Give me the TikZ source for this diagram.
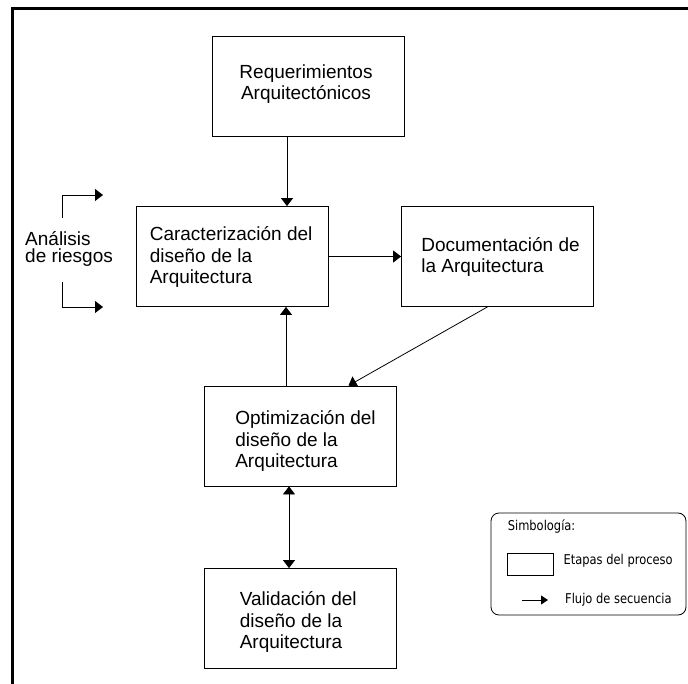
\documentclass[tikz,border=0pt]{standalone}
\usepackage{fontspec}
\setmainfont{Liberation Sans}
\newfontfamily\keyfont[FakeStretch=0.85]{DejaVu Sans}
\usetikzlibrary{arrows.meta,calc}
\begin{document}
\begin{tikzpicture}[x=1pt,y=-1pt,
  stage/.style={draw, line width=0.8pt, minimum width=192pt, minimum height=100pt, inner sep=0pt},
  lbl/.style={font=\fontsize{19}{21.5}\selectfont, align=left, inner sep=0pt, anchor=west},
  flow/.style={line width=0.8pt, -{Triangle[width=12pt,length=8pt]}},
  bothflow/.style={line width=0.8pt, {Triangle[width=12pt,length=8pt]}-{Triangle[width=12pt,length=8pt]}},
  keytxt/.style={font=\keyfont\fontsize{13.5}{15}\selectfont, inner sep=0pt, anchor=west}]
\useasboundingbox (0,0) rectangle (688,684);

% outer frame (top and left edges)
\draw[line width=3pt] (688,9) -- (12,9) -- (12,684);

% process stages
\node[stage] (req) at (308,86) {};
\node[stage] (car) at (232,256.5) {};
\node[stage] (doc) at (497.5,256.5) {};
\node[stage] (opt) at (300.5,436) {};
\node[stage] (val) at (300,618.5) {};

\node[lbl, anchor=center, align=center] (reqt) at ($(req.center)+(-2,-2)$) {Requerimientos\\Arquitectónicos};
\node[lbl] (cart) at ($(car.west)+(14,0.5)$) {Caracterización del\\diseño de la\\Arquitectura};
\node[lbl] (doct) at ($(doc.west)+(20,0.5)$) {Documentación de\\la Arquitectura};
\node[lbl] (optt) at ($(opt.west)+(31,5)$) {Optimización del\\diseño de la\\Arquitectura};
\node[lbl] (valt) at ($(val.west)+(36,3.5)$) {Validación del\\diseño de la\\Arquitectura};

% sequence flow
\draw[flow] ([xshift=-21pt]req.south) -- ([xshift=-21pt]req.south |- car.north);
\draw[flow] (car.east) -- (doc.west);
\draw[flow] ([xshift=-10pt]doc.south) -- ([xshift=48pt]opt.north);
\draw[flow] ([xshift=-14.5pt]opt.north) -- ([xshift=-14.5pt]opt.north |- car.south);
\draw[bothflow] ([xshift=-11.5pt]opt.south) -- ([xshift=-11.5pt]opt.south |- val.north);

% risk analysis
\node[lbl, font=\fontsize{19}{17.5}\selectfont] (risk) at (25,249) {Análisis\\de riesgos};
\coordinate (ra) at (62,218);
\coordinate (rb) at (62,195);
\coordinate (rc) at (103,195);
\coordinate (rd) at (62,282);
\coordinate (re) at (62,307);
\coordinate (rf) at (103,307);
\draw[flow] (ra) -- (rb) -- (rc);
\draw[flow] (rd) -- (re) -- (rf);

% key
\node[draw, line width=0.8pt, rounded corners=8pt, minimum width=195pt, minimum height=102pt, inner sep=0pt] (key) at (588.5,564) {};
\node[keytxt] (keyt) at ($(key.north west)+(17,14)$) {Simbología:};
\node[draw, line width=0.8pt, minimum width=46pt, minimum height=22pt, inner sep=0pt] (keybox) at (530,564) {};
\node[keytxt] (keyboxt) at ($(keybox.east)+(10,-3)$) {Etapas del proceso};
\coordinate (ka) at (522,600);
\coordinate (kb) at (548,600);
\draw[line width=0.8pt, -{Triangle[width=9pt,length=7pt]}] (ka) -- (kb);
\node[keytxt] (keyflowt) at ($(kb)+(17,0)$) {Flujo de secuencia};
\end{tikzpicture}
\end{document}
